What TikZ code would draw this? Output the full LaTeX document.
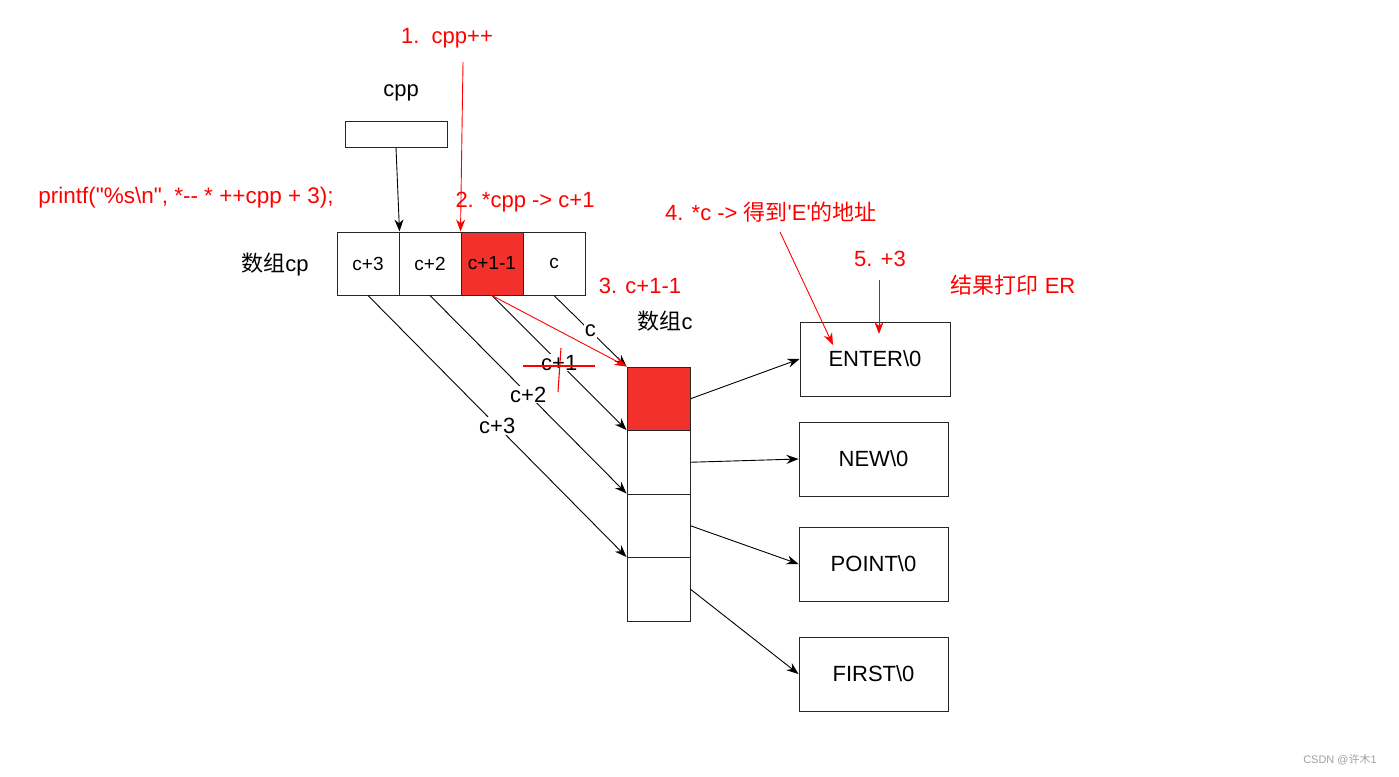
\documentclass[tikz,border=0pt]{standalone}
\usepackage{fontspec}
\setmainfont{Liberation Sans}
\newfontfamily\cjk{Noto Sans CJK SC}
\usetikzlibrary{arrows.meta}
\definecolor{cellred}{RGB}{242,48,44}
\definecolor{txtred}{RGB}{255,0,0}
\definecolor{wm}{RGB}{160,160,160}
\begin{document}
\begin{tikzpicture}[x=1pt,y=-1pt,
  every node/.style={font=\fontsize{22}{26}\selectfont, inner sep=1pt},
  cell/.style={draw=black!85, line width=1pt, inner sep=0pt, minimum width=62pt, minimum height=63pt, font=\fontsize{19}{23}\selectfont},
  ccell/.style={draw=black!85, line width=1pt, inner sep=0pt, minimum width=63pt, minimum height=63.5pt},
  strbox/.style={draw=black!85, line width=1pt, inner sep=0pt, minimum width=149pt, minimum height=74pt},
  redtxt/.style={text=txtred},
  conn/.style={line width=0.9pt, -{Stealth[length=12pt,width=9pt]}},
  plain/.style={line width=1.1pt},
  redconn/.style={line width=0.9pt, draw=txtred, -{Stealth[length=12pt,width=9pt]}},
  lbl/.style={fill=white, inner sep=1pt}
]
\useasboundingbox (0,0) rectangle (1399,776);

% cpp pointer box
\node[draw=black!85, line width=1pt, inner sep=0pt, minimum width=102pt, minimum height=26pt] (cpp) at (396,134) {};
\node (cpplbl) at (401,93) {cpp};

% array cp
\node[cell] (cp1) at (368,263.5) {c+3};
\node[cell] (cp2) at (430,263.5) {c+2};
\node[cell, fill=cellred] (cp3) at (492,263.5) {c+1-1};
\node[cell] (cp4) at (554,263.5) {c};
\node (cplbl) at (275,265) {{\cjk 数组}cp};

% array c
\node[ccell, fill=cellred] (c1) at (658.5,398.75) {};
\node[ccell] (c2) at (658.5,462.25) {};
\node[ccell] (c3) at (658.5,525.75) {};
\node[ccell] (c4) at (658.5,589.25) {};
\node (clbl) at (665,321) {{\cjk 数组}c};

% strings
\node[strbox, minimum width=150pt] (s1) at (875,359) {ENTER\textbackslash 0};
\node[strbox] (s2) at (873.5,459) {NEW\textbackslash 0};
\node[strbox] (s3) at (873.5,564) {POINT\textbackslash 0};
\node[strbox] (s4) at (873.5,674) {FIRST\textbackslash 0};

% red annotations
\node[redtxt] (t1) at (447,38) {1.\ \ cpp++};
\node[redtxt, font=\fontsize{22.5}{26}\selectfont] (t0) at (186,198) {printf(\textquotedbl\%s\textbackslash n\textquotedbl, *-\kern0pt- * +\kern0pt+cpp + 3);};
\node[redtxt] (t2) at (525,202) {2. *cpp -> c+1};
\node[redtxt] (t3) at (640,286) {3. c+1-1};
\node[redtxt] (t4) at (771,212) {4. *c -> {\cjk 得到}\textquotesingle E\textquotesingle{\cjk 的地址}};
\node[redtxt] (t5) at (880,259) {5. +3};
\node[redtxt] (t6) at (1013,285) {{\cjk 结果打印} ER};

\node[text=wm, font=\fontsize{11}{13}\selectfont] (wmk) at (1340,760) {CSDN @{\cjk 许木}1};

% connectors
\draw[conn] (cpp.south) -- (cp1.north east);
\coordinate (r1s) at (463,62);
\draw[redconn] (r1s) -- (cp3.north west);

\draw[conn] (cp4.south) -- node[lbl] {c} (c1.north west);
\draw[conn] (cp3.south) -- node[lbl] (lc1) {c+1} (c2.north west);
\draw[conn] (cp2.south) -- node[lbl] {c+2} (c3.north west);
\draw[conn] (cp1.south) -- node[lbl] {c+3} (c4.north west);

\draw[redconn] (cp3.south) -- (c1.north west);
% strike-through of c+1
\coordinate (x1a) at (523,366);
\coordinate (x1b) at (595,366);
\coordinate (x2a) at (561,348);
\coordinate (x2b) at (558,392);
\draw[plain, draw=txtred] (x1a) -- (x1b);
\draw[plain, draw=txtred] (x2a) -- (x2b);

\draw[conn] (c1.east) -- (s1.west);
\draw[conn] (c2.east) -- (s2.west);
\draw[conn] (c3.east) -- (s3.west);
\draw[conn] (c4.east) -- (s4.west);

\coordinate (r4s) at (780,232);
\coordinate (r4e) at (833,345);
\draw[redconn] (r4s) -- (r4e);
\coordinate (r5s) at (879,280);
\coordinate (r5e) at (879,334);
\draw[redconn] (r5s) -- (r5e);
\end{tikzpicture}
\end{document}
